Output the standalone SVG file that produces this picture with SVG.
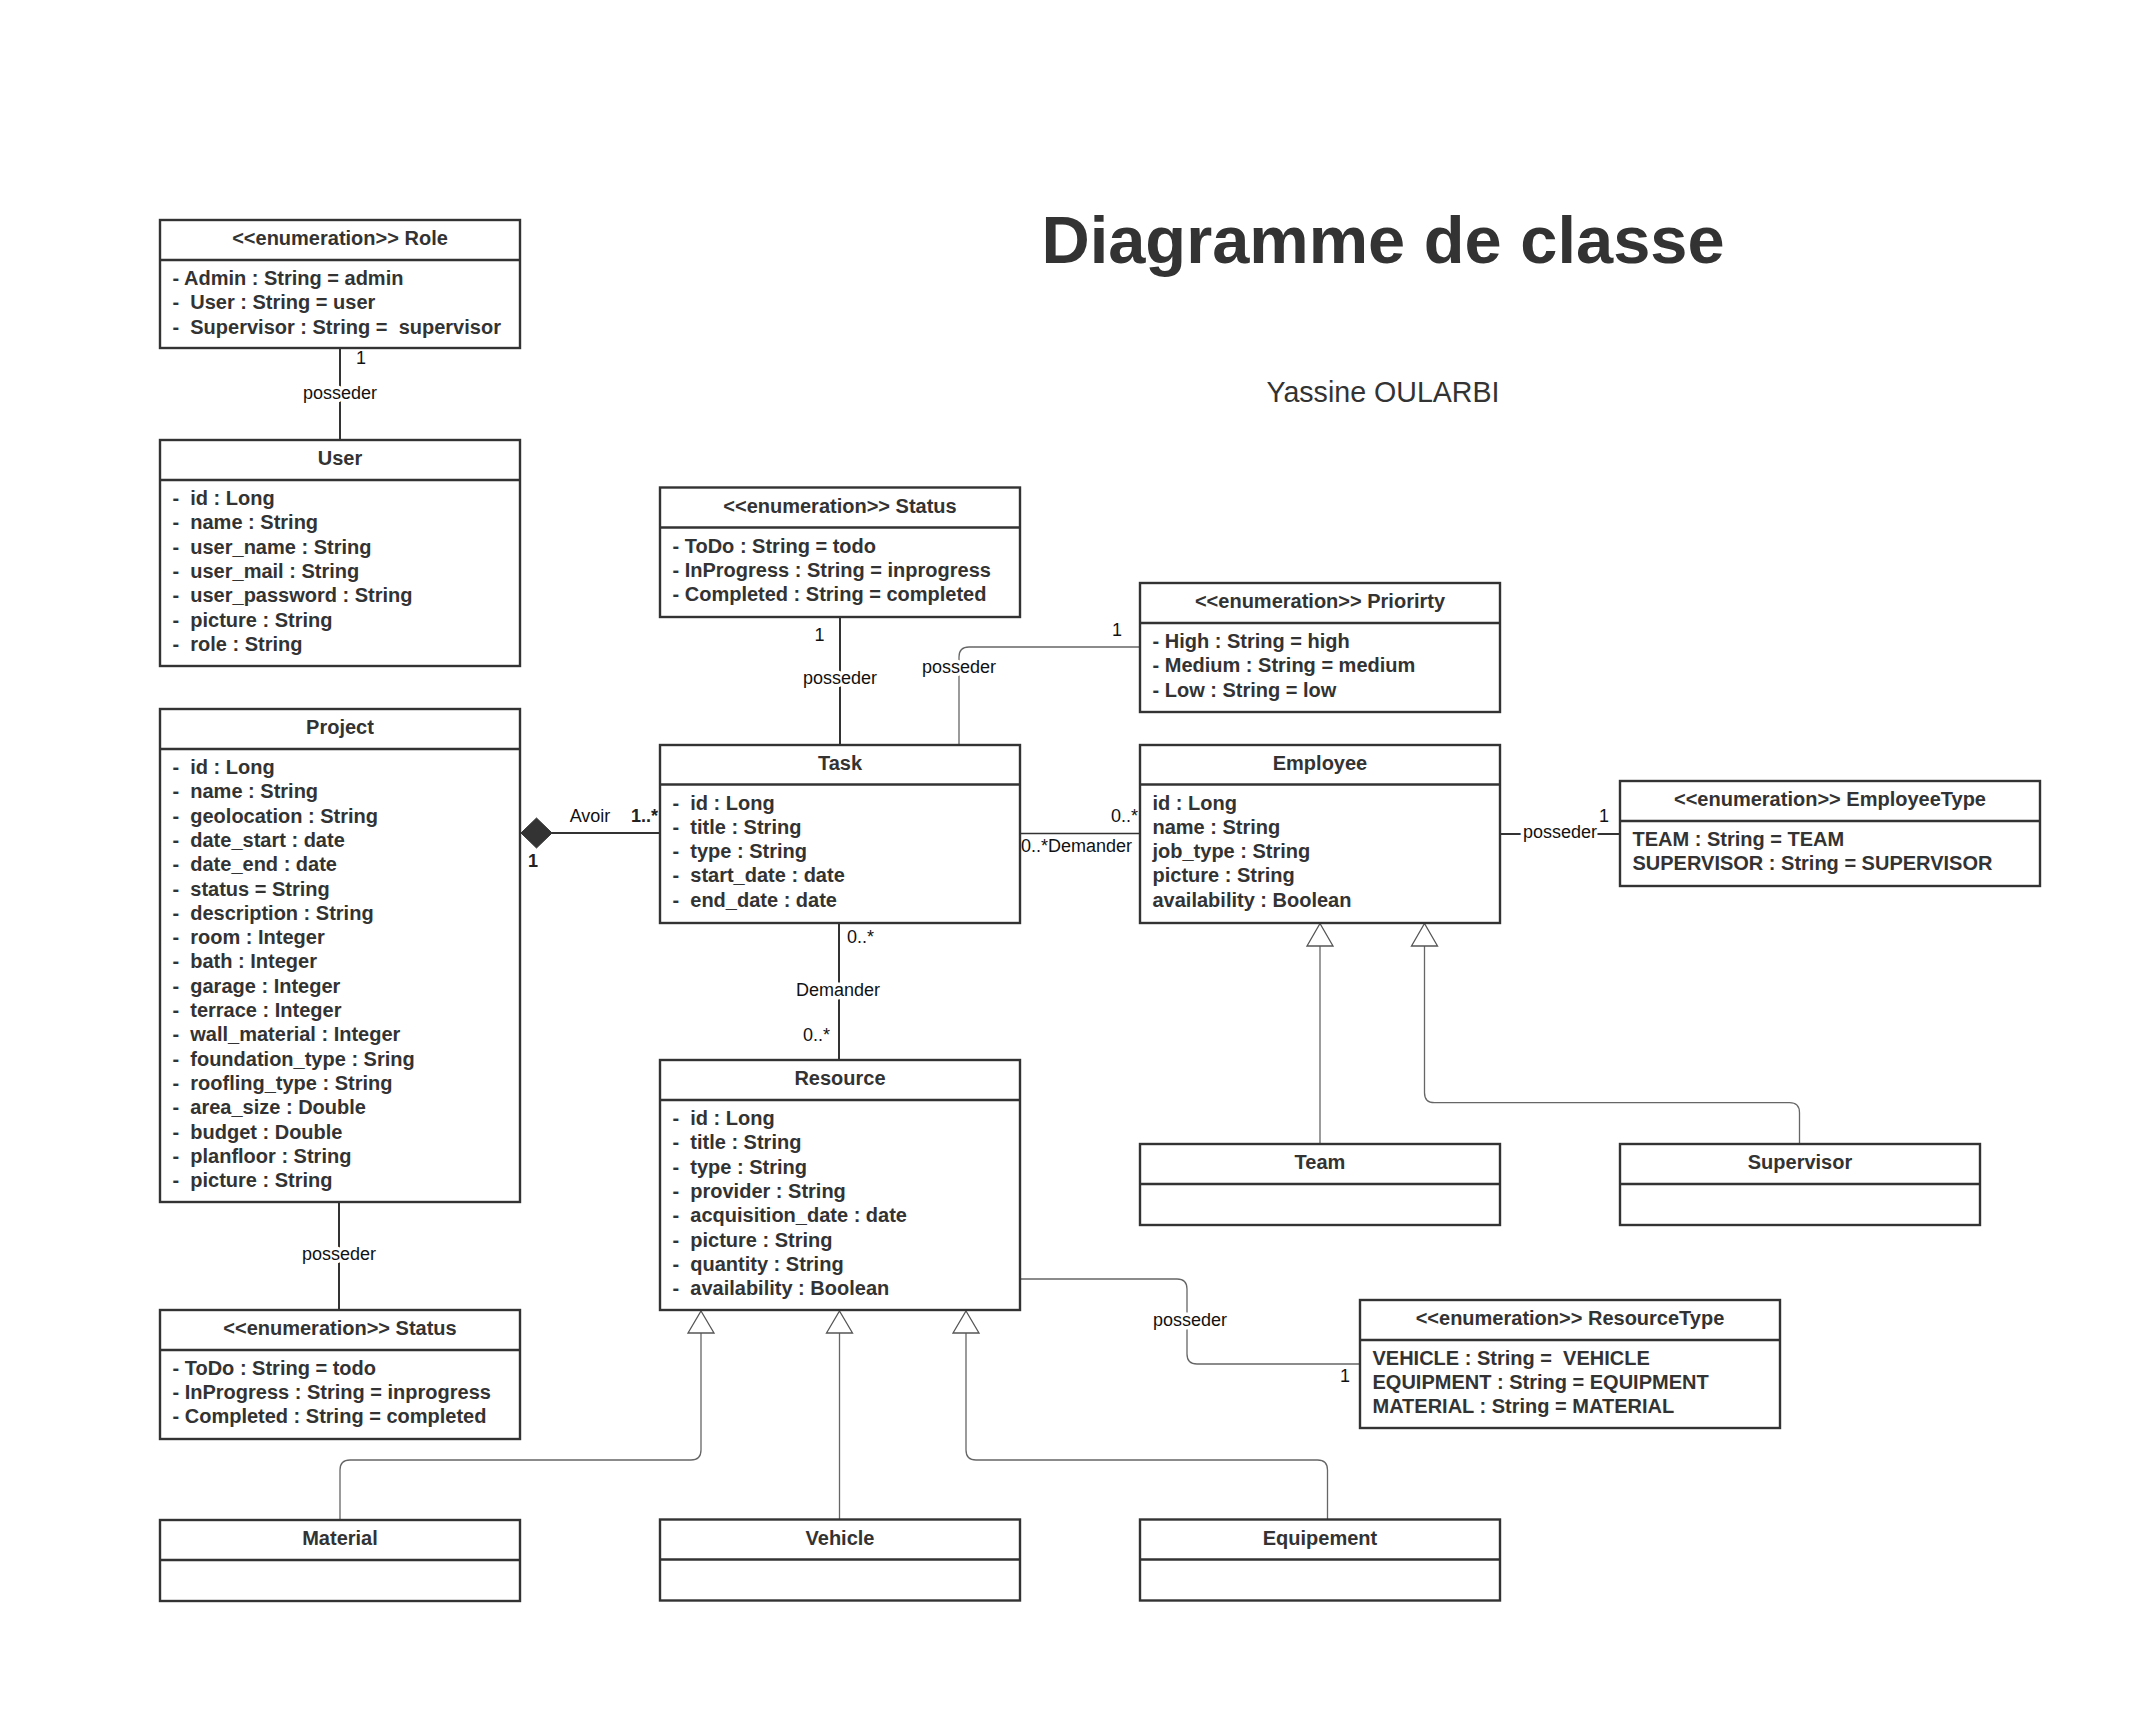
<svg xmlns="http://www.w3.org/2000/svg" width="2154" height="1730" viewBox="0 0 2154 1730">
<style>
.bg{fill:#fff}
.box{fill:#fff;stroke:#333;stroke-width:2.4}
.sep{stroke:#333;stroke-width:2.4}
.hdr{font-family:"Liberation Sans",Arial,sans-serif;font-weight:bold;font-size:20px;fill:#333;text-anchor:middle}
.att{font-family:"Liberation Sans",Arial,sans-serif;font-weight:bold;font-size:20px;fill:#333;white-space:pre}
.lbl{font-family:"Liberation Sans",Arial,sans-serif;font-size:18px;fill:#111;white-space:pre;paint-order:stroke;stroke:#fff;stroke-width:7px;stroke-linejoin:round}
.lblb{font-family:"Liberation Sans",Arial,sans-serif;font-size:18px;font-weight:bold;fill:#222}
.assoc{stroke:#333;stroke-width:2;fill:none}
.thin{stroke:#666;stroke-width:1.3;fill:none}
.tri{fill:#fff;stroke:#555;stroke-width:1.3}
.title{font-family:"Liberation Sans",Arial,sans-serif;font-weight:bold;font-size:66.8px;fill:#333;text-anchor:middle}
.sub{font-family:"Liberation Sans",Arial,sans-serif;font-size:28.6px;fill:#333;text-anchor:middle}
</style>
<rect class="bg" x="0" y="0" width="2154" height="1730"/>
<text class="title" x="1383" y="263">Diagramme de classe</text>
<text class="sub" x="1383" y="402">Yassine OULARBI</text>

<g id="connectors">
  <!-- Role - User -->
  <line class="assoc" x1="340" y1="348" x2="340" y2="440"/>
  <text class="lbl" x="356" y="364">1</text>
  <text class="lbl" x="340" y="399" text-anchor="middle">posseder</text>
  <!-- Project - Status -->
  <line class="assoc" x1="339" y1="1202" x2="339" y2="1310"/>
  <text class="lbl" x="339" y="1260" text-anchor="middle">posseder</text>
  <!-- Project - Task composition -->
  <line class="assoc" x1="552" y1="833" x2="660" y2="833"/>
  <polygon points="521,833 536.5,818 552,833 536.5,848" fill="#333" stroke="#333" stroke-width="1"/>
  <text class="lbl" x="590" y="822" text-anchor="middle">Avoir</text>
  <text class="lblb" x="658" y="822" text-anchor="end">1..*</text>
  <text class="lblb" x="528" y="867">1</text>
  <!-- Status - Task -->
  <line class="assoc" x1="840" y1="617" x2="840" y2="745"/>
  <text class="lbl" x="819.5" y="641" text-anchor="middle">1</text>
  <text class="lbl" x="840" y="684" text-anchor="middle">posseder</text>
  <!-- Task - Priority -->
  <path class="thin" d="M959,745 V657 Q959,647 969,647 H1140"/>
  <text class="lbl" x="959" y="673" text-anchor="middle">posseder</text>
  <text class="lbl" x="1117" y="636" text-anchor="middle">1</text>
  <!-- Task - Employee -->
  <line class="assoc" x1="1020" y1="833.5" x2="1140" y2="833.5" style="stroke-width:1.6"/>
  <text class="lbl" x="1138" y="822" text-anchor="end">0..*</text>
  <text class="lbl" x="1021" y="852">0..*Demander</text>
  <!-- Task - Resource -->
  <line class="assoc" x1="839" y1="923" x2="839" y2="1060"/>
  <text class="lbl" x="847" y="943">0..*</text>
  <text class="lbl" x="838" y="996" text-anchor="middle">Demander</text>
  <text class="lbl" x="830" y="1041" text-anchor="end">0..*</text>
  <!-- Employee - EmployeeType -->
  <line class="assoc" x1="1500" y1="834" x2="1620" y2="834"/>
  <text class="lbl" x="1560" y="838" text-anchor="middle">posseder</text>
  <text class="lbl" x="1604" y="822" text-anchor="middle">1</text>
  <!-- Resource - ResourceType -->
  <path class="thin" d="M1020,1279 H1177 Q1187,1279 1187,1289 V1354 Q1187,1364 1197,1364 H1360"/>
  <text class="lbl" x="1190" y="1326" text-anchor="middle">posseder</text>
  <text class="lbl" x="1345" y="1382" text-anchor="middle">1</text>
  <!-- Generalizations -->
  <line class="thin" x1="1320" y1="946" x2="1320" y2="1144"/>
  <polygon class="tri" points="1320,923.5 1333,946 1307,946"/>
  <path class="thin" d="M1424.5,946 V1092.7 Q1424.5,1102.7 1434.5,1102.7 H1789.5 Q1799.5,1102.7 1799.5,1112.7 V1144"/>
  <polygon class="tri" points="1424.5,923.5 1437.5,946 1411.5,946"/>
  <path class="thin" d="M701,1333 V1450 Q701,1460 691,1460 H350 Q340,1460 340,1470 V1520"/>
  <polygon class="tri" points="701,1311 714,1333 688,1333"/>
  <line class="thin" x1="839.5" y1="1333" x2="839.5" y2="1519.5"/>
  <polygon class="tri" points="839.5,1311 852.5,1333 826.5,1333"/>
  <path class="thin" d="M966,1333 V1450 Q966,1460 976,1460 H1317.5 Q1327.5,1460 1327.5,1470 V1519.5"/>
  <polygon class="tri" points="966,1311 979,1333 953,1333"/>
</g>

<g id="role">
  <rect class="box" x="160" y="220" width="360" height="128"/>
  <line class="sep" x1="160" y1="260" x2="520" y2="260"/>
  <text class="hdr" x="340" y="245">&lt;&lt;enumeration&gt;&gt; Role</text>
  <text class="att" x="172.5" y="285"><tspan x="172.5">- Admin : String = admin</tspan><tspan x="172.5" dy="24.3">-  User : String = user</tspan><tspan x="172.5" dy="24.3">-  Supervisor : String =  supervisor</tspan></text>
</g>

<g id="user">
  <rect class="box" x="160" y="440" width="360" height="226"/>
  <line class="sep" x1="160" y1="480" x2="520" y2="480"/>
  <text class="hdr" x="340" y="465">User</text>
  <text class="att" x="172.5" y="505"><tspan x="172.5">-  id : Long</tspan><tspan x="172.5" dy="24.3">-  name : String</tspan><tspan x="172.5" dy="24.3">-  user_name : String</tspan><tspan x="172.5" dy="24.3">-  user_mail : String</tspan><tspan x="172.5" dy="24.3">-  user_password : String</tspan><tspan x="172.5" dy="24.3">-  picture : String</tspan><tspan x="172.5" dy="24.3">-  role : String</tspan></text>
</g>

<g id="project">
  <rect class="box" x="160" y="709" width="360" height="493"/>
  <line class="sep" x1="160" y1="749" x2="520" y2="749"/>
  <text class="hdr" x="340" y="734">Project</text>
  <text class="att" x="172.5" y="774"><tspan x="172.5">-  id : Long</tspan><tspan x="172.5" dy="24.3">-  name : String</tspan><tspan x="172.5" dy="24.3">-  geolocation : String</tspan><tspan x="172.5" dy="24.3">-  date_start : date</tspan><tspan x="172.5" dy="24.3">-  date_end : date</tspan><tspan x="172.5" dy="24.3">-  status = String</tspan><tspan x="172.5" dy="24.3">-  description : String</tspan><tspan x="172.5" dy="24.3">-  room : Integer</tspan><tspan x="172.5" dy="24.3">-  bath : Integer</tspan><tspan x="172.5" dy="24.3">-  garage : Integer</tspan><tspan x="172.5" dy="24.3">-  terrace : Integer</tspan><tspan x="172.5" dy="24.3">-  wall_material : Integer</tspan><tspan x="172.5" dy="24.3">-  foundation_type : Sring</tspan><tspan x="172.5" dy="24.3">-  roofling_type : String</tspan><tspan x="172.5" dy="24.3">-  area_size : Double</tspan><tspan x="172.5" dy="24.3">-  budget : Double</tspan><tspan x="172.5" dy="24.3">-  planfloor : String</tspan><tspan x="172.5" dy="24.3">-  picture : String</tspan></text>
</g>

<g id="project-status">
  <rect class="box" x="160" y="1310" width="360" height="129"/>
  <line class="sep" x1="160" y1="1350" x2="520" y2="1350"/>
  <text class="hdr" x="340" y="1335">&lt;&lt;enumeration&gt;&gt; Status</text>
  <text class="att" x="172.5" y="1374.5"><tspan x="172.5">- ToDo : String = todo</tspan><tspan x="172.5" dy="24.3">- InProgress : String = inprogress</tspan><tspan x="172.5" dy="24.3">- Completed : String = completed</tspan></text>
</g>

<g id="material">
  <rect class="box" x="160" y="1520" width="360" height="81"/>
  <line class="sep" x1="160" y1="1560" x2="520" y2="1560"/>
  <text class="hdr" x="340" y="1545">Material</text>
</g>

<g id="task-status">
  <rect class="box" x="660" y="487.5" width="360" height="129.5"/>
  <line class="sep" x1="660" y1="527.5" x2="1020" y2="527.5"/>
  <text class="hdr" x="840" y="512.5">&lt;&lt;enumeration&gt;&gt; Status</text>
  <text class="att" x="672.5" y="552.5"><tspan x="672.5">- ToDo : String = todo</tspan><tspan x="672.5" dy="24.3">- InProgress : String = inprogress</tspan><tspan x="672.5" dy="24.3">- Completed : String = completed</tspan></text>
</g>

<g id="task">
  <rect class="box" x="660" y="745" width="360" height="178"/>
  <line class="sep" x1="660" y1="784.5" x2="1020" y2="784.5"/>
  <text class="hdr" x="840" y="770">Task</text>
  <text class="att" x="672.5" y="809.5"><tspan x="672.5">-  id : Long</tspan><tspan x="672.5" dy="24.3">-  title : String</tspan><tspan x="672.5" dy="24.3">-  type : String</tspan><tspan x="672.5" dy="24.3">-  start_date : date</tspan><tspan x="672.5" dy="24.3">-  end_date : date</tspan></text>
</g>

<g id="resource">
  <rect class="box" x="660" y="1060" width="360" height="250"/>
  <line class="sep" x1="660" y1="1100" x2="1020" y2="1100"/>
  <text class="hdr" x="840" y="1085">Resource</text>
  <text class="att" x="672.5" y="1125"><tspan x="672.5">-  id : Long</tspan><tspan x="672.5" dy="24.3">-  title : String</tspan><tspan x="672.5" dy="24.3">-  type : String</tspan><tspan x="672.5" dy="24.3">-  provider : String</tspan><tspan x="672.5" dy="24.3">-  acquisition_date : date</tspan><tspan x="672.5" dy="24.3">-  picture : String</tspan><tspan x="672.5" dy="24.3">-  quantity : String</tspan><tspan x="672.5" dy="24.3">-  availability : Boolean</tspan></text>
</g>

<g id="vehicle">
  <rect class="box" x="660" y="1519.5" width="360" height="81"/>
  <line class="sep" x1="660" y1="1559.5" x2="1020" y2="1559.5"/>
  <text class="hdr" x="840" y="1544.5">Vehicle</text>
</g>

<g id="priority">
  <rect class="box" x="1140" y="583" width="360" height="129"/>
  <line class="sep" x1="1140" y1="623" x2="1500" y2="623"/>
  <text class="hdr" x="1320" y="608">&lt;&lt;enumeration&gt;&gt; Priorirty</text>
  <text class="att" x="1152.5" y="648"><tspan x="1152.5">- High : String = high</tspan><tspan x="1152.5" dy="24.3">- Medium : String = medium</tspan><tspan x="1152.5" dy="24.3">- Low : String = low</tspan></text>
</g>

<g id="employee">
  <rect class="box" x="1140" y="745" width="360" height="178"/>
  <line class="sep" x1="1140" y1="784.5" x2="1500" y2="784.5"/>
  <text class="hdr" x="1320" y="770">Employee</text>
  <text class="att" x="1152.5" y="809.5"><tspan x="1152.5">id : Long</tspan><tspan x="1152.5" dy="24.3">name : String</tspan><tspan x="1152.5" dy="24.3">job_type : String</tspan><tspan x="1152.5" dy="24.3">picture : String</tspan><tspan x="1152.5" dy="24.3">availability : Boolean</tspan></text>
</g>

<g id="employee-type">
  <rect class="box" x="1620" y="781" width="420" height="105"/>
  <line class="sep" x1="1620" y1="821" x2="2040" y2="821"/>
  <text class="hdr" x="1830" y="806">&lt;&lt;enumeration&gt;&gt; EmployeeType</text>
  <text class="att" x="1632.5" y="846"><tspan x="1632.5">TEAM : String = TEAM</tspan><tspan x="1632.5" dy="24.3">SUPERVISOR : String = SUPERVISOR</tspan></text>
</g>

<g id="team">
  <rect class="box" x="1140" y="1144" width="360" height="81"/>
  <line class="sep" x1="1140" y1="1184" x2="1500" y2="1184"/>
  <text class="hdr" x="1320" y="1169">Team</text>
</g>

<g id="supervisor">
  <rect class="box" x="1620" y="1144" width="360" height="81"/>
  <line class="sep" x1="1620" y1="1184" x2="1980" y2="1184"/>
  <text class="hdr" x="1800" y="1169">Supervisor</text>
</g>

<g id="resource-type">
  <rect class="box" x="1360" y="1300" width="420" height="128"/>
  <line class="sep" x1="1360" y1="1340" x2="1780" y2="1340"/>
  <text class="hdr" x="1570" y="1325">&lt;&lt;enumeration&gt;&gt; ResourceType</text>
  <text class="att" x="1372.5" y="1364.5"><tspan x="1372.5">VEHICLE : String =  VEHICLE</tspan><tspan x="1372.5" dy="24.3">EQUIPMENT : String = EQUIPMENT</tspan><tspan x="1372.5" dy="24.3">MATERIAL : String = MATERIAL</tspan></text>
</g>

<g id="equipement">
  <rect class="box" x="1140" y="1519.5" width="360" height="81"/>
  <line class="sep" x1="1140" y1="1559.5" x2="1500" y2="1559.5"/>
  <text class="hdr" x="1320" y="1544.5">Equipement</text>
</g>
</svg>
